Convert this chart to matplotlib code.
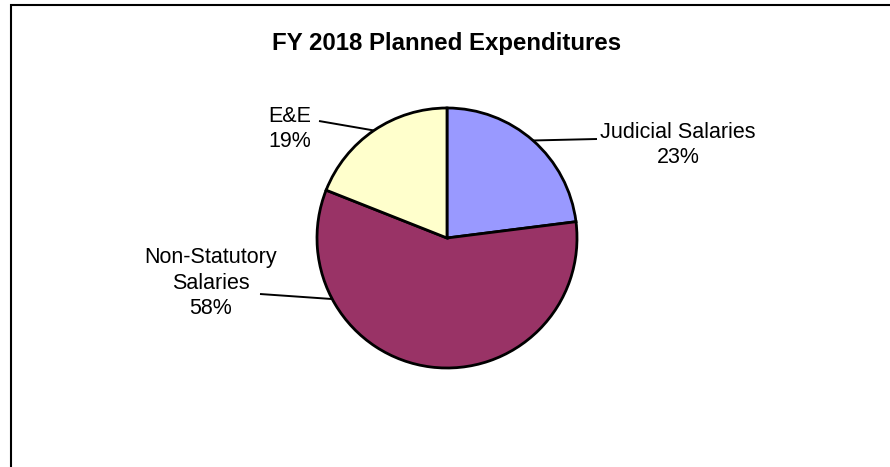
import numpy as np
import matplotlib
matplotlib.use("Agg")
import matplotlib.pyplot as plt
from matplotlib.patches import Rectangle

plt.rcParams["font.family"] = ["Liberation Sans", "DejaVu Sans"]

# FY 2018 planned expenditure shares (%)
categories = ["Judicial Salaries", "Non-Statutory\nSalaries", "E&E"]
shares = [23, 58, 19]
colors = ["#9999FF", "#993366", "#FFFFCC"]

W, H = 890, 467
fig = plt.figure(figsize=(W / 100, H / 100), dpi=100)
ax = fig.add_axes([0, 0, 1, 1])

# chart frame (runs off the right and bottom edges)
ax.add_patch(Rectangle((11, -20), W + 20, H - 5 + 20, fill=False,
                       edgecolor="black", linewidth=1.5, clip_on=True))

cx, cy, r = 447, H - 238, 130
wedges, _ = ax.pie(shares, colors=colors, startangle=90, counterclock=False,
                   center=(cx, cy), radius=r, frame=True,
                   wedgeprops=dict(edgecolor="black", linewidth=2.0))
ax.set_xlim(0, W)
ax.set_ylim(0, H)
ax.set_aspect("equal")
ax.axis("off")

# label text position (last-line baseline), leader start, anchor angle on rim
label_pos = [(678, H - 163), (211, H - 314), (290, H - 147)]
leader_start = [(597, H - 139), (260, H - 294), (319, H - 121)]
anchor_ang = [None, 208, None]

for w, name, pct, (tx, ty), (lx, ly), ang in zip(
        wedges, categories, shares, label_pos, leader_start, anchor_ang):
    if ang is None:
        ang = (w.theta1 + w.theta2) / 2
    ex = cx + r * np.cos(np.radians(ang))
    ey = cy + r * np.sin(np.radians(ang))
    ax.plot([lx, ex], [ly, ey], color="black", linewidth=1.4,
            solid_capstyle="butt")
    ax.text(tx, ty, f"{name}\n{pct}%", ha="center", va="baseline",
            multialignment="center", fontsize=15.5, linespacing=1.27)

ax.text(447, H - 50, "FY 2018 Planned Expenditures", ha="center",
        va="baseline", fontsize=17.3, fontweight="bold")

fig.savefig("out.png", dpi=100, facecolor="white")
